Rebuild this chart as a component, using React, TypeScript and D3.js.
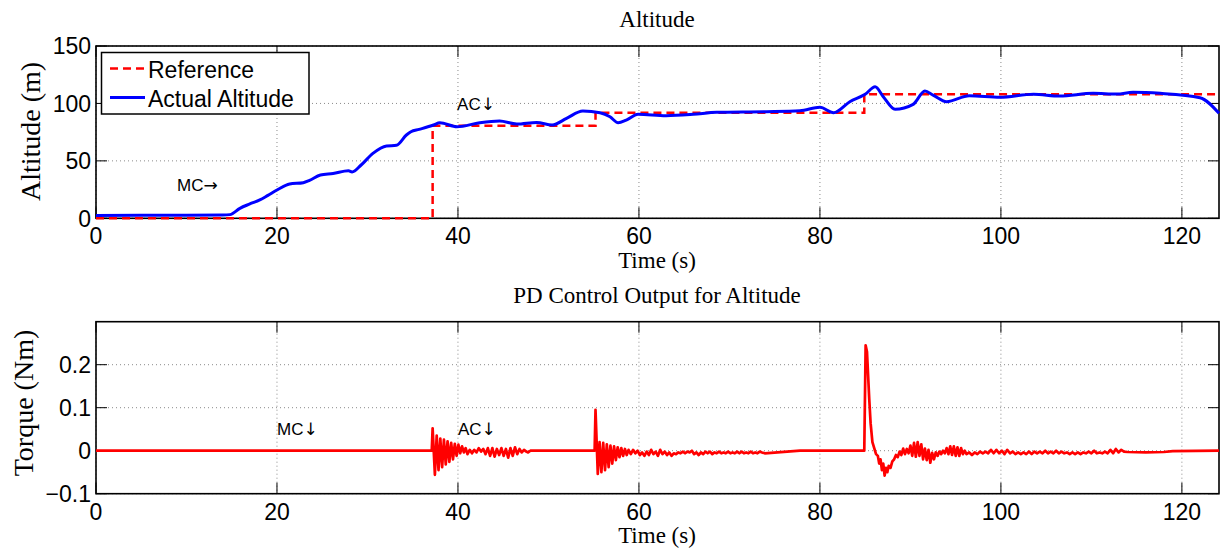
import React from "react";
import * as d3 from "d3";

// ---------- data ----------
const xTicks = [0, 20, 40, 60, 80, 100, 120];
const altTicks = [0, 50, 100, 150];
const torqueTicks = [-0.1, 0, 0.1, 0.2];

// Reference altitude (step changes): [time, level]
const referenceSteps: [number, number][] = [
  [0, 0], [37.2, 80.6], [55.2, 91.9], [84.9, 107.9], [124.1, 107.9],
];

// Actual altitude: [time, altitude]
const actualAltitude: [number, number][] = [
  [0, 2.5], [5, 2.6], [10, 2.7], [14, 2.9], [14.8, 3.2], [15.9, 8.7], [17, 12.5], [18.1, 16],
  [19, 20], [20, 24.6], [21.4, 29.9], [22.9, 31], [23.6, 33], [24.8, 37.7], [26.2, 39],
  [27.9, 41.4], [28.3, 40.3], [29.3, 46.4], [30.6, 56.5], [32.1, 63], [33.2, 63.5], [34.3, 72.5],
  [34.8, 75.4], [35.7, 77.4], [37.3, 81.2], [38, 83.2], [39.9, 79.7], [42.4, 83.2], [44.6, 84.7],
  [46.5, 82], [48.7, 83.5], [50.4, 81.2], [52, 87], [53.8, 93.4], [55.7, 91.9], [56.8, 88.4],
  [57.7, 83.2], [58.6, 85.5], [59.9, 90.5], [63, 89.3], [66, 90.5], [68.6, 92.3], [74.1, 92.8],
  [77.8, 93.6], [80, 96.6], [81.5, 91.9], [83.3, 101.5], [85, 107.9], [86.1, 114.5], [87, 105.8],
  [88.3, 94.9], [90.3, 99.2], [91.6, 110.8], [92.5, 107.3], [94, 101.5], [96.5, 106.7],
  [99.9, 105.3], [103.6, 107.9], [106.5, 106.4], [110.2, 108.8], [112.8, 108.2], [114.6, 109.7],
  [117.6, 108.8], [122, 105], [124.1, 91.4],
];

// PD control output torque: [time, torque]
const torque: [number, number][] = [
  [0, 0], [37.1, 0],
  [37.2, 0.052], [37.45, -0.056], [37.65, 0.035], [37.85, -0.045], [38.05, 0.028], [38.25, -0.038],
  [38.45, 0.026], [38.65, -0.032], [38.85, 0.022], [39.05, -0.026], [39.25, 0.018], [39.45, -0.02],
  [39.65, 0.016], [39.85, -0.012], [40.05, 0.014], [40.25, -0.006], [40.45, 0.01], [40.65, -0.004],
  [40.85, 0.006], [41.05, -0.008], [41.3, 0.002], [41.55, -0.006], [41.8, 0.002], [42.05, -0.004],
  [42.3, 0.006], [42.55, -0.002], [42.8, 0.004], [43.05, -0.008], [43.3, 0.006], [43.55, -0.012],
  [43.8, 0.006], [44.05, -0.014], [44.3, 0.004], [44.55, -0.01], [44.8, 0.006], [45.05, -0.012],
  [45.3, 0.004], [45.55, -0.016], [45.8, 0.006], [46.05, -0.012], [46.3, 0.008], [46.55, -0.008],
  [46.8, 0.004], [47.05, -0.004], [47.3, 0.002], [47.55, -0.002], [47.75, -0.004], [48, 0],
  [55.1, 0],
  [55.2, 0.095], [55.45, -0.054], [55.65, 0.02], [55.85, -0.05], [56.05, 0.018], [56.25, -0.045],
  [56.45, 0.015], [56.65, -0.038], [56.85, 0.012], [57.05, -0.03], [57.25, 0.01], [57.45, -0.022],
  [57.65, 0.008], [57.85, -0.015], [58.05, 0.006], [58.25, -0.012], [58.45, 0.004], [58.65, -0.01],
  [58.85, 0.002], [59.1, -0.008], [59.35, 0.002], [59.6, -0.006], [59.85, 0], [60.1, -0.01],
  [60.35, -0.004], [60.6, -0.012], [60.85, -0.002], [61.1, -0.01], [61.35, 0.002], [61.6, -0.008],
  [61.85, -0.002], [62.1, -0.012], [62.35, 0.002], [62.6, -0.008], [62.85, -0.002], [63.1, -0.01],
  [63.35, -0.004], [63.6, -0.012], [63.85, -0.006], [64.1, -0.008], [64.35, -0.004], [64.6, -0.006],
  [64.85, -0.002], [65.1, -0.006], [65.35, -0.002], [65.6, -0.004], [65.85, 0], [66.1, -0.008],
  [66.35, -0.004], [66.6, -0.01], [66.85, -0.004], [67.1, -0.008], [67.35, -0.002], [67.6, -0.006],
  [67.85, -0.002], [68.1, -0.008], [68.35, -0.004], [68.6, -0.006], [68.85, -0.002], [69.1, -0.006],
  [69.35, -0.004], [69.6, -0.006], [69.85, -0.002], [70.1, -0.006], [70.35, -0.004], [70.6, -0.006],
  [70.85, -0.002], [71.1, -0.006], [71.35, -0.002], [71.6, -0.006], [71.85, -0.004], [72.1, -0.006],
  [72.35, -0.002], [72.6, -0.006], [72.85, -0.004], [73.1, -0.006], [73.35, -0.002], [73.6, -0.004],
  [73.9, -0.006], [77.8, 0], [84.9, 0],
  [85.05, 0.245], [85.2, 0.23], [85.45, 0.12], [85.6, 0.064], [85.8, 0.02], [86.0, 0.006],
  [86.2, -0.008], [86.4, -0.012], [86.55, -0.03], [86.7, -0.02], [86.85, -0.045], [87.0, -0.03],
  [87.15, -0.058], [87.3, -0.04], [87.45, -0.05], [87.6, -0.035], [87.8, -0.04], [88.0, -0.025],
  [88.2, -0.02], [88.4, -0.01], [88.6, -0.015], [88.8, -0.002], [89.0, -0.01], [89.2, 0.005],
  [89.4, -0.008], [89.6, 0.004], [89.8, -0.006], [90.0, 0.012], [90.2, -0.012], [90.4, 0.018],
  [90.6, -0.014], [90.8, 0.02], [91.0, -0.012], [91.2, 0.015], [91.4, -0.02], [91.6, 0.005],
  [91.8, -0.022], [92.0, 0.002], [92.2, -0.028], [92.4, -0.005], [92.6, -0.02], [92.8, -0.004],
  [93.0, -0.012], [93.2, -0.002], [93.4, -0.008], [93.6, 0.0], [93.8, -0.006], [94.0, 0.006],
  [94.2, -0.008], [94.4, 0.01], [94.6, -0.01], [94.8, 0.01], [95.0, -0.012], [95.2, 0.008],
  [95.4, -0.012], [95.6, 0.006], [95.8, -0.008], [96.0, 0.0], [96.2, -0.008], [96.5, -0.004],
  [96.8, -0.01], [97.1, -0.004], [97.4, -0.008], [97.7, -0.002], [98.0, -0.006], [98.3, -0.002],
  [98.6, -0.006], [98.9, 0.002], [99.2, -0.006], [99.5, 0.002], [99.8, -0.006], [100.1, 0],
  [100.4, -0.008], [100.7, 0.002], [101.0, -0.006], [101.3, -0.002], [101.6, -0.008], [101.9, -0.004],
  [102.2, -0.008], [102.5, -0.004], [102.8, -0.008], [103.1, -0.002], [103.4, -0.008], [103.7, -0.002],
  [104.0, -0.006], [104.3, -0.002], [104.6, -0.006], [104.9, 0], [105.2, -0.006], [105.5, -0.002],
  [105.8, -0.006], [106.1, 0], [106.4, -0.006], [106.7, -0.002], [107.0, -0.006], [107.3, -0.004],
  [107.6, -0.008], [107.9, -0.004], [108.2, -0.008], [108.5, -0.004], [108.8, -0.008], [109.1, -0.004],
  [109.4, -0.006], [109.7, -0.002], [110.0, -0.006], [110.3, 0], [110.6, -0.006], [110.9, -0.004],
  [111.2, -0.006], [111.5, -0.002], [111.8, -0.006], [112.1, 0.002], [112.4, -0.006], [112.7, 0.004],
  [113.0, -0.004], [113.3, 0.002], [113.6, -0.002], [114.0, -0.003], [116.0, -0.004], [118.0, -0.003],
  [119.0, -0.001], [124.1, 0],
];

// annotations: [time, value, label, arrow]
const altAnnotations: [number, number, string, string][] = [[8.95, 24, "MC", "→"], [39.9, 94.3, "AC", "↓"]];
const torqueAnnotations: [number, number, string, string][] = [[20, 0.0356, "MC", "↓"], [40, 0.0356, "AC", "↓"]];

// ---------- layout ----------
const W = 1222;
const H = 548;
const left = 96;
const right = 1219;
const top1 = 46;
const bot1 = 218.3;
const top2 = 321.7;
const bot2 = 493.7;

const SANS = "'Liberation Sans', Arial, Helvetica, sans-serif";
const SERIF = "'Liberation Serif', 'Times New Roman', serif";
const ARROW = "'DejaVu Sans', sans-serif";

const x = d3.scaleLinear().domain([0, 124.1]).range([left, right]);
const y1 = d3.scaleLinear().domain([0, 150]).range([bot1, top1]);
const y2 = d3.scaleLinear().domain([-0.1, 0.3]).range([bot2, top2]);

function Frame({ yScale, yTicks, top, bot, fmt }: any) {
  const tl = 11;
  return (
    <g>
      {xTicks.map((t) => (
        <line key={"gx" + t} x1={x(t)} x2={x(t)} y1={top} y2={bot} stroke="#8a8a8a" strokeWidth={1} strokeDasharray="1 3" />
      ))}
      {yTicks.map((t: number) => (
        <line key={"gy" + t} x1={left} x2={right} y1={yScale(t)} y2={yScale(t)} stroke="#8a8a8a" strokeWidth={1} strokeDasharray="1 3" />
      ))}
      {xTicks.map((t) => (
        <g key={"tx" + t}>
          <line x1={x(t)} x2={x(t)} y1={bot} y2={bot - tl} stroke="#000" strokeWidth={1} />
          <line x1={x(t)} x2={x(t)} y1={top} y2={top + tl} stroke="#000" strokeWidth={1} />
          <text x={x(t)} y={bot + 26} textAnchor="middle" fontFamily={SANS} fontSize={23}>{t}</text>
        </g>
      ))}
      {yTicks.map((t: number) => (
        <g key={"ty" + t}>
          <line x1={left} x2={left + tl} y1={yScale(t)} y2={yScale(t)} stroke="#000" strokeWidth={1} />
          <line x1={right} x2={right - tl} y1={yScale(t)} y2={yScale(t)} stroke="#000" strokeWidth={1} />
          <text x={left - 5} y={yScale(t)} dy="0.36em" textAnchor="end" fontFamily={SANS} fontSize={23}>{fmt(t)}</text>
        </g>
      ))}
      <rect x={left} y={top} width={right - left} height={bot - top} fill="none" stroke="#000" strokeWidth={1.6} />
    </g>
  );
}

function Note({ px, py, label, arrow }: any) {
  return (
    <text x={px} y={py} fontFamily={SANS} fontSize={17} fill="#000">
      {label}
      <tspan fontFamily={ARROW} fontSize={17}>{arrow}</tspan>
    </text>
  );
}

export default function App() {
  const altLine = d3.line<[number, number]>().x((d) => x(d[0])).y((d) => y1(d[1])).curve(d3.curveMonotoneX);
  const refLine = d3.line<[number, number]>().x((d) => x(d[0])).y((d) => y1(d[1])).curve(d3.curveStepAfter);
  const tqLine = d3.line<[number, number]>().x((d) => x(d[0])).y((d) => y2(d[1]));
  const fmtAlt = (v: number) => String(v);
  const fmtTq = (v: number) => (v < 0 ? "\u2212" + Math.abs(v) : String(v));

  return (
    <svg width={W} height={H} style={{ position: "absolute", left: 0, top: 0, background: "#fff" }}>
      <rect x={0} y={0} width={W} height={H} fill="#fff" />
      {/* Top plot */}
      <text x={657} y={27} textAnchor="middle" fontFamily={SERIF} fontSize={23}>Altitude</text>
      <Frame yScale={y1} yTicks={altTicks} top={top1} bot={bot1} fmt={fmtAlt} />
      <path d={refLine(referenceSteps) || ""} fill="none" stroke="#ff0000" strokeWidth={2.5} strokeDasharray="8 5" />
      <path d={altLine(actualAltitude) || ""} fill="none" stroke="#0000ff" strokeWidth={3} strokeLinejoin="round" />
      {altAnnotations.map(([t, v, s, a]) => (
        <Note key={s + t} px={x(t)} py={y1(v)} label={s} arrow={a} />
      ))}
      <text transform={`translate(40,131.5) rotate(-90)`} textAnchor="middle" fontFamily={SERIF} fontSize={28}>Altitude (m)</text>
      <text x={657} y={268} textAnchor="middle" fontFamily={SERIF} fontSize={23}>Time (s)</text>
      {/* Legend */}
      <g>
        <rect x={101.5} y={52.5} width={207.5} height={61.5} fill="#fff" stroke="#000" strokeWidth={1.5} />
        <line x1={110} x2={145} y1={68.5} y2={68.5} stroke="#ff0000" strokeWidth={2.5} strokeDasharray="8 5" />
        <text x={148} y={77.5} fontFamily={SANS} fontSize={23}>Reference</text>
        <line x1={110} x2={145} y1={97.5} y2={97.5} stroke="#0000ff" strokeWidth={3} />
        <text x={148} y={106.5} fontFamily={SANS} fontSize={23}>Actual Altitude</text>
      </g>

      {/* Bottom plot */}
      <text x={657} y={303} textAnchor="middle" fontFamily={SERIF} fontSize={23}>PD Control Output for Altitude</text>
      <Frame yScale={y2} yTicks={torqueTicks} top={top2} bot={bot2} fmt={fmtTq} />
      <path d={tqLine(torque) || ""} fill="none" stroke="#ff0000" strokeWidth={2.7} strokeLinejoin="round" />
      {torqueAnnotations.map(([t, v, s, a]) => (
        <Note key={s + t} px={x(t)} py={y2(v)} label={s} arrow={a} />
      ))}
      <text transform={`translate(33,403) rotate(-90)`} textAnchor="middle" fontFamily={SERIF} fontSize={28}>Torque (Nm)</text>
      <text x={657} y={543} textAnchor="middle" fontFamily={SERIF} fontSize={23}>Time (s)</text>
    </svg>
  );
}
